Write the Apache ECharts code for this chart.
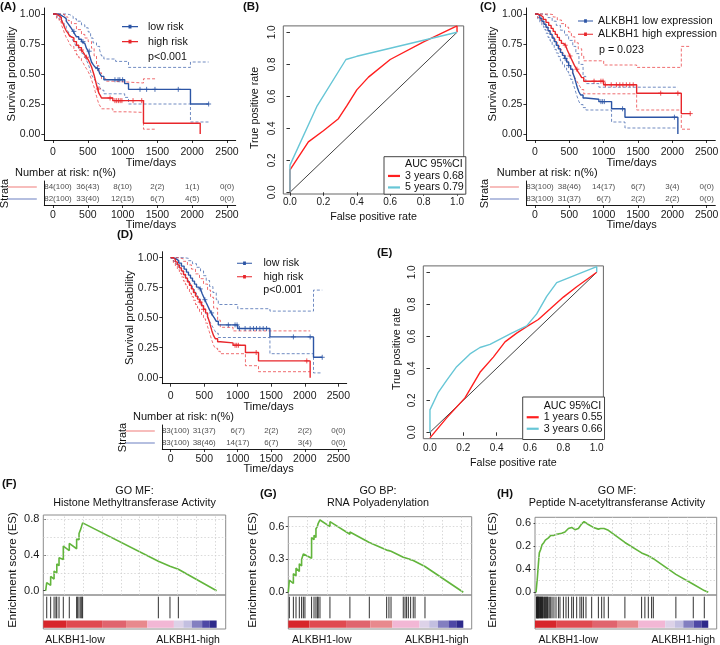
<!DOCTYPE html>
<html><head><meta charset="utf-8">
<script src="https://cdn.jsdelivr.net/npm/echarts@6/dist/echarts.min.js"></script>
<style>html,body{margin:0;padding:0;background:#fff}#c{width:720px;height:645px}</style>
</head><body><div id="c"></div>
<script>
const FF = "'Liberation Sans', Arial, Helvetica, sans-serif";
const RED = '#e8262b', BLUE = '#2c55a5';
const TBL_RED = '#f39a98', TBL_BLUE = '#8d9dd0';
const ROC_RED = '#ff1f1f', ROC_CYAN = '#67c6d6', GREEN = '#62b53c';

// ---------------- Kaplan-Meier data ----------------
const kmXTicks = [0, 500, 1000, 1500, 2000, 2500];
const kmXLabels = ['0', '500', '1000', '1500', '2000', '2500'];
const kmYTicks = [0, 0.25, 0.5, 0.75, 1];
const kmYLabels = ['0.00', '0.25', '0.50', '0.75', '1.00'];

// Panel A
const survA_low = [[0,1],[60,0.995],[100,0.985],[130,0.975],[160,0.96],[190,0.94],[216,0.92],[240,0.9],[264,0.88],[290,0.855],[315,0.83],[337,0.81],[370,0.79],[409,0.77],[435,0.755],[457,0.74],[480,0.715],[505,0.69],[525,0.655],[540,0.625],[553,0.6],[575,0.58],[601,0.56],[625,0.545],[649,0.53],[670,0.505],[697,0.48],[731,0.452],[1030,0.42],[1085,0.372],[1975,0.25],[2236,0.25]];
const survA_high = [[0,1],[50,0.985],[90,0.97],[120,0.95],[145,0.92],[168,0.885],[190,0.86],[216,0.84],[240,0.815],[264,0.8],[300,0.77],[337,0.74],[370,0.72],[409,0.7],[435,0.68],[457,0.66],[480,0.64],[505,0.62],[530,0.59],[553,0.56],[572,0.525],[591,0.49],[608,0.45],[625,0.41],[642,0.375],[659,0.34],[680,0.32],[697,0.3],[860,0.278],[1300,0.09],[2115,0]];
const ciA_lowUp = [[0,1],[190,0.995],[240,0.98],[290,0.96],[337,0.94],[409,0.91],[457,0.885],[505,0.85],[540,0.8],[575,0.76],[625,0.73],[670,0.7],[697,0.65],[731,0.625],[900,0.605],[1085,0.555],[1975,0.6],[2236,0.6]];
const ciA_lowLo = [[0,1],[60,0.97],[100,0.95],[130,0.93],[160,0.905],[190,0.88],[216,0.855],[240,0.83],[264,0.805],[290,0.775],[315,0.75],[337,0.725],[370,0.7],[409,0.675],[435,0.66],[457,0.64],[480,0.615],[505,0.585],[525,0.55],[540,0.52],[553,0.495],[575,0.47],[601,0.45],[625,0.43],[649,0.415],[670,0.39],[697,0.365],[731,0.335],[1030,0.305],[1085,0.25],[1975,0.1],[2236,0.1]];
const ciA_highUp = [[0,1],[120,0.995],[168,0.975],[216,0.945],[264,0.92],[337,0.87],[409,0.83],[457,0.8],[505,0.77],[553,0.715],[591,0.65],[625,0.57],[659,0.51],[697,0.46],[760,0.44],[860,0.425],[1300,0.46],[1466,0.46]];
const ciA_highLo = [[0,1],[50,0.96],[90,0.935],[120,0.91],[145,0.875],[168,0.835],[190,0.805],[216,0.78],[240,0.75],[264,0.73],[300,0.695],[337,0.66],[370,0.635],[409,0.61],[435,0.59],[457,0.565],[480,0.545],[505,0.52],[530,0.49],[553,0.455],[572,0.42],[591,0.39],[608,0.35],[625,0.315],[642,0.28],[659,0.25],[680,0.23],[697,0.21],[860,0.185],[1060,0.18],[1300,0.04],[1466,0.04]];
const censA_low = [300, 430, 520, 640, 890, 935, 960, 1000, 1250, 1345, 1465, 1800, 2236];
const censA_high = [409, 480, 650, 820, 890, 915, 940, 965, 990, 1150, 1275];
const riskA_red = ['84(100)', '36(43)', '8(10)', '2(2)', '1(1)', '0(0)'];
const riskA_blue = ['82(100)', '33(40)', '12(15)', '6(7)', '4(5)', '0(0)'];

// Panels C and D (ALKBH1 high expression = low risk group)
const survHi = [[0,1],[40,0.99],[80,0.975],[120,0.955],[160,0.93],[200,0.905],[235,0.88],[265,0.855],[295,0.83],[325,0.805],[355,0.78],[385,0.755],[415,0.74],[445,0.725],[470,0.7],[490,0.675],[510,0.65],[530,0.625],[555,0.595],[580,0.565],[605,0.54],[630,0.515],[655,0.495],[680,0.47],[710,0.44],[1000,0.41],[1480,0.34],[2130,0.17],[2260,0.17]];
const survLo = [[0,1],[40,0.985],[70,0.965],[100,0.94],[130,0.915],[160,0.89],[190,0.86],[220,0.83],[250,0.8],[280,0.77],[310,0.74],[340,0.71],[370,0.68],[400,0.655],[430,0.63],[460,0.6],[490,0.57],[520,0.54],[550,0.51],[575,0.47],[595,0.43],[615,0.39],[640,0.35],[665,0.325],[700,0.3],[740,0.29],[930,0.27],[1115,0.21],[1310,0.14],[2080,0]];
const ciHiUp = [[0,1],[200,0.995],[265,0.975],[325,0.95],[385,0.92],[445,0.89],[490,0.85],[530,0.81],[580,0.76],[630,0.71],[680,0.65],[710,0.61],[1000,0.575],[1480,0.555],[2130,0.73],[2260,0.73]];
const ciHiLo = [[0,1],[40,0.97],[80,0.945],[120,0.915],[160,0.885],[200,0.855],[235,0.825],[265,0.795],[295,0.765],[325,0.735],[355,0.705],[385,0.675],[415,0.655],[445,0.635],[470,0.61],[490,0.58],[510,0.555],[530,0.53],[555,0.5],[580,0.47],[605,0.445],[630,0.42],[655,0.395],[680,0.37],[710,0.335],[1480,0.2],[2130,0.04],[2260,0.04]];
const ciLoUp = [[0,1],[130,0.99],[190,0.97],[250,0.94],[310,0.905],[370,0.865],[430,0.825],[490,0.78],[550,0.73],[595,0.67],[640,0.58],[700,0.48],[740,0.42],[930,0.39],[2080,0.39]];
const ciLoLo = [[0,1],[40,0.96],[70,0.93],[100,0.9],[130,0.87],[160,0.84],[190,0.805],[220,0.775],[250,0.74],[280,0.705],[310,0.675],[340,0.645],[370,0.61],[400,0.58],[430,0.55],[460,0.52],[490,0.49],[520,0.455],[550,0.425],[575,0.385],[595,0.345],[615,0.31],[640,0.27],[665,0.245],[700,0.22],[740,0.2],[1115,0.1],[1310,0.05],[2080,0.05]];
const censHi = [440, 510, 610, 860, 960, 990, 1025, 1110, 1185, 1235, 1280, 1330, 1380, 1430, 1830, 2080, 2260];
const censLo = [440, 490, 960, 985, 1010, 1275, 2030];
const riskHi = ['83(100)', '38(46)', '14(17)', '6(7)', '3(4)', '0(0)'];
const riskLo = ['83(100)', '31(37)', '6(7)', '2(2)', '2(2)', '0(0)'];

// ---------------- ROC data ----------------
const rocTicks = [0, 0.2, 0.4, 0.6, 0.8, 1];
const rocLabels = ['0.0', '0.2', '0.4', '0.6', '0.8', '1.0'];
const rocDiag = [[0,0],[1,1]];
const rocB_3y = [[0,0],[0,0.14],[0.11,0.315],[0.2,0.385],[0.29,0.46],[0.34,0.54],[0.4,0.64],[0.47,0.72],[0.6,0.83],[0.8,0.94],[1,1.04],[1,1]];
const rocB_5y = [[0,0],[0,0.17],[0.16,0.535],[0.335,0.83],[0.4,0.85],[0.6,0.9],[0.8,0.95],[1,1]];
const rocE_1y = [[0,-0.035],[0.1,0.09],[0.21,0.215],[0.3,0.375],[0.38,0.47],[0.45,0.565],[0.52,0.62],[0.58,0.66],[0.65,0.705],[0.72,0.77],[0.8,0.845],[0.88,0.91],[1,1]];
const rocE_3y = [[0,0],[0,0.14],[0.05,0.25],[0.1,0.325],[0.16,0.41],[0.24,0.49],[0.3,0.53],[0.36,0.55],[0.49,0.62],[0.58,0.665],[0.64,0.74],[0.7,0.85],[0.76,0.935],[0.82,0.96],[1,1.035],[1,1]];

// ---------------- GSEA data (x = gene rank, % of list) ----------------
const esF = [[0,0],[0.6,0],[0.6,0.09],[2.9,0.06],[2.9,0.16],[4.9,0.13],[4.9,0.22],[6.5,0.2],[6.5,0.3],[7.8,0.28],[7.8,0.37],[10.3,0.35],[10.3,0.5],[13.8,0.45],[13.8,0.53],[18.1,0.47],[18.1,0.58],[19.5,0.57],[19.5,0.64],[20.5,0.63],[20.5,0.69],[21.6,0.68],[21.6,0.76],[65.9,0.33],[65.9,0.34],[72.7,0.275],[72.7,0.285],[77.6,0.24],[77.6,0.25],[100,0]];
const hitsF = [0.6,2.9,4.9,6.0,6.5,7.8,10.3,13.8,18.1,18.7,19.5,20.5,21.1,21.6,65.9,72.7,77.6];
const esG = [[0,0],[0.6,0.11],[2.9,0.08],[2.9,0.17],[4.4,0.15],[4.4,0.22],[6.3,0.19],[6.3,0.26],[7.6,0.24],[7.6,0.3],[8.6,0.29],[8.6,0.35],[9.5,0.34],[9.5,0.36],[13.3,0.31],[13.3,0.5],[14.7,0.48],[14.7,0.52],[15.8,0.5],[15.8,0.58],[16.6,0.57],[16.6,0.6],[17.1,0.595],[17.1,0.63],[18.1,0.62],[18.1,0.66],[23.8,0.6],[23.8,0.645],[35.2,0.53],[35.2,0.55],[46.3,0.455],[46.3,0.47],[56.2,0.385],[56.2,0.39],[57.5,0.38],[57.5,0.385],[58.7,0.375],[58.7,0.38],[65.7,0.32],[65.7,0.325],[66.7,0.318],[67.6,0.31],[68.6,0.305],[69.9,0.298],[71.4,0.29],[72.4,0.283],[78.1,0.235],[78.1,0.24],[100,0]];
const hitsG = [0.6,2.9,4.4,6.3,7.6,8.6,9.5,13.3,14.7,15.8,16.6,17.1,18.1,23.8,35.2,46.3,56.2,57.5,58.7,65.7,66.7,67.6,68.6,69.9,71.4,72.4,78.1];
const esH = [[0,0],[0.8,0.13],[1.4,0.25],[1.9,0.34],[2.7,0.37],[3.5,0.41],[4.6,0.43],[5.4,0.45],[7.2,0.47],[8.5,0.49],[10.1,0.49],[12.0,0.5],[14.9,0.51],[16.8,0.52],[18.8,0.55],[20.7,0.56],[22.6,0.54],[24.6,0.55],[26.5,0.59],[27.9,0.61],[30.4,0.585],[33.3,0.56],[36.2,0.545],[37.5,0.55],[39.5,0.55],[42.0,0.535],[51.6,0.43],[61.3,0.34],[65.2,0.315],[68.1,0.29],[81.2,0.155],[91.3,0.07],[97.7,0.015],[100,0]];
const hitsH = [0.2,0.4,0.6,0.8,1.0,1.2,1.5,1.7,1.9,2.3,2.6,2.9,3.2,3.5,3.8,4.1,4.6,5.0,5.4,5.8,6.2,6.6,7.0,7.7,8.5,9.3,10.4,11.6,13.0,13.9,15.9,17.4,18.8,20.7,21.7,23.6,25.5,26.5,27.5,29.0,32.3,36.2,38.1,39.5,42.0,51.6,61.3,63.2,65.2,67.1,68.1,81.2,91.3,97.7];
const esTicksF = [0, 0.4, 0.8], esLabelsF = ['0.0', '0.4', '0.8'];
const esTicksG = [0, 0.3, 0.6], esLabelsG = ['0.0', '0.3', '0.6'];
const esTicksH = [0, 0.2, 0.4, 0.6], esLabelsH = ['0.0', '0.4', '0.2', '0.6'];
const cbBreaks = [12, 33, 47, 59.5, 75, 80.5, 85.5, 91.5, 96, 100];
const cbColors = ['#d7262b', '#e04a50', '#e0646e', '#e8898d', '#f2b7d5', '#ddd2e8', '#c3bfe0', '#837fc0', '#4e48a5', '#2e2a8b'];
const esGridX = [11, 22, 33, 44, 55, 66, 77, 88, 99];

// ---------------- builders ----------------
const grids = [], xAxes = [], yAxes = [], series = [], legends = [], graphics = [];
function addGrid(r, xa, ya, extra) {
  const i = grids.length;
  grids.push(Object.assign({left: r[0], top: r[1], width: r[2], height: r[3], containLabel: false, outerBoundsMode: 'none'}, extra || {}));
  xAxes.push(Object.assign({gridIndex: i}, xa));
  yAxes.push(Object.assign({gridIndex: i}, ya));
  return i;
}
function lab(ticks, labels) {
  return v => { let b = 0, d = 1e9; ticks.forEach((t, i) => { if (Math.abs(t - v) < d) { d = Math.abs(t - v); b = i; } }); return labels[b]; };
}
function sAt(curve, t) { let s = curve[0][1]; for (const p of curve) { if (p[0] <= t) s = p[1]; else break; } return s; }
function T(text, x, y, o) {
  o = o || {};
  graphics.push({type: 'text', x, y, rotation: o.rot ? Math.PI / 2 : 0, silent: true,
    style: {text, fill: '#111', fontSize: o.size || 11, fontFamily: FF, fontWeight: o.bold ? 'bold' : 'normal',
      align: o.align || (o.rot ? 'center' : 'left'), verticalAlign: 'middle'}});
}
const axLine = {show: true, onZero: false, lineStyle: {color: '#000', width: 0.9}};
function kmX(margin) {
  return {type: 'value', min: -125, max: 2625, axisLine: axLine,
    axisTick: {show: true, length: 3, customValues: kmXTicks, lineStyle: {color: '#000', width: 0.8}},
    axisLabel: {show: true, customValues: kmXTicks, margin, fontSize: 10.5, color: '#1a1a1a', fontFamily: FF, formatter: lab(kmXTicks, kmXLabels)},
    splitLine: {show: false}};
}
function kmPanel(rect, curves) {
  const g = addGrid(rect, kmX(7), {type: 'value', min: -0.05, max: 1.05, axisLine: axLine,
    axisTick: {show: true, length: 3, customValues: kmYTicks, lineStyle: {color: '#000', width: 0.8}},
    axisLabel: {show: true, customValues: kmYTicks, margin: 4, fontSize: 10.5, color: '#1a1a1a', fontFamily: FF, formatter: lab(kmYTicks, kmYLabels)},
    splitLine: {show: false}});
  curves.forEach(c => {
    [c.up, c.lo].forEach(ci => series.push({type: 'line', xAxisIndex: g, yAxisIndex: g, step: 'end', data: ci, symbol: 'none', silent: true, z: 2,
      lineStyle: {color: c.color, width: 0.8, type: [3, 2], opacity: 0.85}}));
  });
  curves.forEach(c => {
    series.push({type: 'line', name: c.name, color: c.color, xAxisIndex: g, yAxisIndex: g, step: 'end', data: c.surv, symbol: 'none', silent: true, z: 3,
      lineStyle: {color: c.color, width: 1.4}});
    series.push({type: 'scatter', xAxisIndex: g, yAxisIndex: g, data: c.cens.map(t => [t, sAt(c.surv, t)]), silent: true, z: 4,
      symbol: 'path://M0,3L6,3M3,0L3,6', symbolSize: 5, itemStyle: {color: 'rgba(0,0,0,0)', borderColor: c.color, borderWidth: 1}});
  });
}
function riskTable(rect, redRow, blueRow) {
  const g = addGrid(rect, kmX(5), {type: 'category', data: ['b', 'r'], axisLine: axLine, axisTick: {show: false},
    axisLabel: {interval: 0, margin: 7.5, formatter: v => '{' + v + '|}', rich: {r: {width: 29, height: 1.3, lineHeight: 2, backgroundColor: TBL_RED}, b: {width: 29, height: 1.3, lineHeight: 2, backgroundColor: TBL_BLUE}}},
    splitLine: {show: false}});
  const data = [];
  kmXTicks.forEach((t, i) => {
    const lbl = i === 0 ? {offset: [5, 0]} : undefined;
    data.push({value: [t, 1], txt: redRow[i], label: lbl});
    data.push({value: [t, 0], txt: blueRow[i], label: lbl});
  });
  series.push({type: 'scatter', xAxisIndex: g, yAxisIndex: g, data, symbol: 'circle', symbolSize: 1, silent: true, z: 5,
    itemStyle: {color: 'rgba(0,0,0,0)'},
    label: {show: true, position: 'inside', formatter: p => p.data.txt, fontSize: 8, color: '#222', fontFamily: FF}});
}
function rocPanel(rect, yMin, xMargin, lines) {
  const g = addGrid(rect, {type: 'value', min: -0.04, max: 1.04, axisLine: {show: false},
      axisTick: {show: true, length: 3.5, customValues: rocTicks, lineStyle: {color: '#333'}},
      axisLabel: {customValues: rocTicks, margin: xMargin, fontSize: 10, color: '#1a1a1a', fontFamily: FF, formatter: lab(rocTicks, rocLabels)}, splitLine: {show: false}},
    {type: 'value', min: yMin, max: 1.04, axisLine: {show: false},
      axisTick: {show: true, length: 3.5, customValues: rocTicks, lineStyle: {color: '#333'}},
      axisLabel: {customValues: rocTicks, margin: 6, rotate: 90, fontSize: 10, color: '#1a1a1a', fontFamily: FF, formatter: lab(rocTicks, rocLabels)}, splitLine: {show: false}},
    {show: true, borderColor: '#666', borderWidth: 1, backgroundColor: 'rgba(0,0,0,0)'});
  series.push({type: 'line', xAxisIndex: g, yAxisIndex: g, data: rocDiag, symbol: 'none', silent: true, z: 2, lineStyle: {color: '#111', width: 0.8}});
  lines.forEach(l => series.push({type: 'line', name: l.name, color: l.color, xAxisIndex: g, yAxisIndex: g, data: l.data, symbol: 'none', silent: true, z: 3, lineStyle: {color: l.color, width: 1.4}}));
  return g;
}
function gseaPanel(esRect, hitRect, xMin, xMax, yMin, yMax, ticks, labels, gridY, es, hits) {
  const g1 = addGrid(esRect, {type: 'value', min: xMin, max: xMax, show: false},
    {type: 'value', min: yMin, max: yMax, axisLine: {show: false},
      axisTick: {show: true, length: 2.5, customValues: ticks, lineStyle: {color: '#444'}},
      axisLabel: {customValues: ticks, margin: 4, fontSize: 11, color: '#1a1a1a', fontFamily: FF, formatter: lab(ticks, labels)}, splitLine: {show: false}},
    {show: true, borderColor: '#8c8c8c', borderWidth: 1, backgroundColor: 'rgba(0,0,0,0)'});
  series.push({type: 'line', xAxisIndex: g1, yAxisIndex: g1, data: es, symbol: 'none', silent: true, z: 1, lineStyle: {opacity: 0},
    markLine: {silent: true, symbol: ['none', 'none'], label: {show: false}, animation: false,
      lineStyle: {color: '#cfcfcf', type: [1.5, 2], width: 0.8},
      data: esGridX.map(v => ({xAxis: v})).concat(gridY.map(v => ({yAxis: v})))}});
  series.push({type: 'line', xAxisIndex: g1, yAxisIndex: g1, data: es, symbol: 'none', silent: true, z: 3, lineStyle: {color: GREEN, width: 1.6}});
  const g2 = addGrid(hitRect, {type: 'value', min: xMin, max: xMax, show: false}, {type: 'value', min: 0, max: 34, show: false},
    {show: true, borderColor: '#8c8c8c', borderWidth: 1, backgroundColor: 'rgba(0,0,0,0)'});
  const segs = cbBreaks.map((b, i) => [i === 0 ? xMin : cbBreaks[i - 1], b, i]);
  series.push({type: 'custom', xAxisIndex: g2, yAxisIndex: g2, data: segs, silent: true, encode: {x: [0, 1], y: 2},
    renderItem: (p, api) => { const a = api.coord([api.value(0), 8.5]); const b = api.coord([api.value(1), 1.2]);
      return {type: 'rect', shape: {x: a[0], y: a[1], width: b[0] - a[0], height: b[1] - a[1]}, style: {fill: cbColors[api.value(2)]}}; }});
  series.push({type: 'custom', xAxisIndex: g2, yAxisIndex: g2, data: hits.map(h => [h, 0]), silent: true, encode: {x: 0, y: 1},
    renderItem: (p, api) => { const x = api.value(0); const a = api.coord([x, 32.3]); const b = api.coord([x, 10.7]);
      return {type: 'line', shape: {x1: a[0], y1: a[1], x2: b[0], y2: b[1]}, style: {stroke: '#1a1a1a', lineWidth: 0.9}}; }});
}

// ---------------- build panels ----------------
const KM_ICON = 'path://M0,2.3L16,2.3L16,3.5L0,3.5ZM6.5,1L9.5,1L9.5,4.8L6.5,4.8Z';
const ROC_ICON = 'path://M0,0L12,0L12,2.2L0,2.2Z';
const legTxt = (pad) => ({fontSize: 10.7, fontFamily: FF, color: '#111', lineHeight: 11, padding: [0, 0, 0, pad]});

// (A)
kmPanel([44.3, 8, 191.4, 132], [
  {name: 'low risk', color: BLUE, surv: survA_low, up: ciA_lowUp, lo: ciA_lowLo, cens: censA_low},
  {name: 'high risk', color: RED, surv: survA_high, up: ciA_highUp, lo: ciA_highLo, cens: censA_high}]);
riskTable([44.3, 181, 191.4, 24], riskA_red, riskA_blue);
legends.push({left: 122, top: 21.2, orient: 'vertical', padding: 0, itemWidth: 16, itemHeight: 11, itemGap: 4, selectedMode: false,
  data: [{name: 'low risk', icon: KM_ICON}, {name: 'high risk', icon: KM_ICON}], textStyle: legTxt(5)});

// (C)
kmPanel([526.4, 8, 188.9, 132], [
  {name: 'ALKBH1 low expression', color: BLUE, surv: survLo, up: ciLoUp, lo: ciLoLo, cens: censLo},
  {name: 'ALKBH1 high expression', color: RED, surv: survHi, up: ciHiUp, lo: ciHiLo, cens: censHi}]);
riskTable([526.4, 181, 188.9, 24], riskHi, riskLo);
legends.push({left: 578, top: 15.5, orient: 'vertical', padding: 0, itemWidth: 15, itemHeight: 11, itemGap: 2.3, selectedMode: false,
  data: [{name: 'ALKBH1 low expression', icon: KM_ICON}, {name: 'ALKBH1 high expression', icon: KM_ICON}], textStyle: legTxt(0)});

// (D)
kmPanel([162.3, 251.7, 184.4, 132], [
  {name: 'low risk', color: BLUE, surv: survHi, up: ciHiUp, lo: ciHiLo, cens: censHi},
  {name: 'high risk', color: RED, surv: survLo, up: ciLoUp, lo: ciLoLo, cens: censLo}]);
riskTable([162.3, 425, 184.4, 24], riskLo, riskHi);
legends.push({left: 237, top: 257.8, orient: 'vertical', padding: 0, itemWidth: 15, itemHeight: 11, itemGap: 2.4, selectedMode: false,
  data: [{name: 'low risk', icon: KM_ICON}, {name: 'high risk', icon: KM_ICON}], textStyle: legTxt(6.5)});

// (B) and (E)
const gB = rocPanel([283.3, 25.9, 180.4, 168.1], -0.0106, 3, [
  {name: '3 years 0.68', color: ROC_RED, data: rocB_3y}, {name: '5 years 0.79', color: ROC_CYAN, data: rocB_5y}]);
series.push({type: 'line', name: 'AUC 95%CI', color: 'rgba(0,0,0,0)', xAxisIndex: gB, yAxisIndex: gB, data: [], symbol: 'none'});
rocPanel([423.3, 265.9, 180.1, 172.8], -0.04, 4.5, [
  {name: '1 years 0.55', color: ROC_RED, data: rocE_1y}, {name: '3 years 0.66', color: ROC_CYAN, data: rocE_3y}]);
const rocLeg = (left, top, pad, names) => ({left, top, orient: 'vertical', padding: pad, itemWidth: 12, itemHeight: 9, itemGap: 0, selectedMode: false,
  backgroundColor: '#fff', borderColor: '#444', borderWidth: 1,
  data: [{name: 'AUC 95%CI', icon: 'rect'}].concat(names.map(n => ({name: n, icon: ROC_ICON}))),
  textStyle: {fontSize: 10.7, fontFamily: FF, color: '#111', lineHeight: 11.5}});
legends.push(rocLeg(384, 156.7, [2, 2, 1, 4], ['3 years 0.68', '5 years 0.79']));
legends.push(rocLeg(522.7, 397, [3, 2, 5, 4], ['1 years 0.55', '3 years 0.66']));

// (F) (G) (H)
gseaPanel([43.3, 515, 182.4, 80], [43.3, 595, 182.4, 34], -1.4, 105.3, -0.048, 0.848, esTicksF, esLabelsF, [0.2, 0.4, 0.6, 0.8], esF, hitsF);
gseaPanel([288.3, 516.7, 183.4, 78.3], [288.3, 595, 183.4, 34], 0, 104.8, -0.025, 0.69, esTicksG, esLabelsG, [0.15, 0.3, 0.45, 0.6], esG, hitsG);
gseaPanel([535, 517.3, 181.7, 77.7], [535, 595, 181.7, 34], -0.6, 104.9, -0.023, 0.647, esTicksH, esLabelsH, [0.1, 0.2, 0.3, 0.4, 0.5, 0.6], esH, hitsH);

// ---------------- texts ----------------
const B = {bold: true, size: 11.5};
T('(A)', 0, 7, B); T('(B)', 243, 7.3, B); T('(C)', 480, 7, B); T('(D)', 117, 235, B);
T('(E)', 377, 253, B); T('(F)', 2, 484, B); T('(G)', 260, 494, B); T('(H)', 497, 494, B);
// KM A
T('Survival probability', 11.7, 74, {rot: true, size: 11.3});
T('Time/days', 151, 163, {align: 'center'});
T('p<0.001', 148, 57, {size: 10.7});
T('Number at risk: n(%)', 15, 173);
T('Strata', 4.7, 193.5, {rot: true});
T('Time/days', 151, 225, {align: 'center'});
// KM C
T('Survival probability', 493.3, 74, {rot: true, size: 11.3});
T('Time/days', 631.7, 163, {align: 'center'});
T('p = 0.023', 599, 50, {size: 10.7});
T('Number at risk: n(%)', 496.7, 173);
T('Strata', 485, 193.5, {rot: true});
T('Time/days', 631.7, 225, {align: 'center'});
// KM D
T('Survival probability', 129.7, 317.7, {rot: true, size: 11.3});
T('Time/days', 268.7, 407, {align: 'center'});
T('p<0.001', 263.3, 290, {size: 10.7});
T('Number at risk: n(%)', 133, 417);
T('Strata', 122.7, 437.5, {rot: true});
T('Time/days', 268.7, 469, {align: 'center'});
// ROC
T('True positive rate', 255, 108, {rot: true, size: 10.7});
T('False positive rate', 373.5, 217, {align: 'center', size: 10.7});
T('True positive rate', 396.7, 349, {rot: true, size: 10.7});
T('False positive rate', 513.4, 463, {align: 'center', size: 10.7});
// GSEA
T('GO MF:', 134.5, 490.7, {align: 'center', size: 10.8});
T('Histone Methyltransferase Activity', 134.5, 503, {align: 'center', size: 10.8});
T('GO BP:', 378, 490.7, {align: 'center', size: 10.8});
T('RNA Polyadenylation', 378, 503, {align: 'center', size: 10.8});
T('GO MF:', 617, 490.7, {align: 'center', size: 10.8});
T('Peptide N-acetyltransferanse Activity', 617, 503, {align: 'center', size: 10.8});
[13.3, 252.7, 492.7].forEach(x => T('Enrichment score (ES)', x, 570, {rot: true, size: 11.5}));
[[75, 188], [321.7, 436.7], [568.3, 683.3]].forEach(p => { T('ALKBH1-low', p[0], 640, {align: 'center', size: 10.5}); T('ALKBH1-high', p[1], 640, {align: 'center', size: 10.5}); });

const chart = echarts.init(document.getElementById('c'), null, {renderer: 'canvas', width: 720, height: 645});
chart.setOption({animation: false, backgroundColor: '#fff', textStyle: {fontFamily: FF},
  grid: grids, xAxis: xAxes, yAxis: yAxes, series, legend: legends, graphic: {elements: graphics}});
</script></body></html>
